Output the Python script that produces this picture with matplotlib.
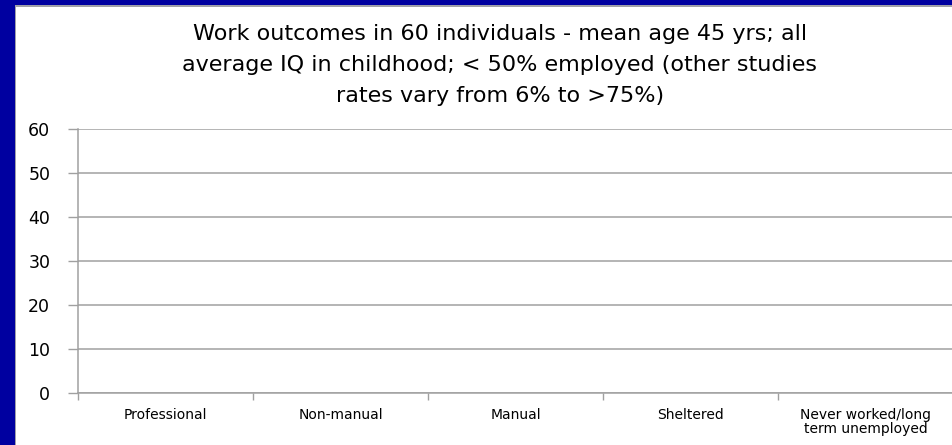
import numpy as np
import matplotlib.pyplot as plt
from matplotlib.patches import Rectangle

plt.rcParams['font.family'] = ['DejaVu Sans']

# Chart categories (no bars were filled in on this chart)
categories = ['Professional', 'Non-manual', 'Manual', 'Sheltered',
              'Never worked/long\nterm unemployed']
y_ticks = [0, 10, 20, 30, 40, 50, 60]

title_lines = ['Work outcomes in 60 individuals - mean age 45 yrs; all',
               'average IQ in childhood; < 50% employed (other studies',
               'rates vary from 6% to >75%)']

W, H = 953, 445
fig = plt.figure(figsize=(W / 100, H / 100), dpi=100)
fig.patch.set_facecolor('white')

# slide frame: dark blue strip on the left and top, thin grey edge inside
blue = '#0000A0'
edge = '#A0A0A8'
fig.patches.append(Rectangle((0, 0), 15 / W, 1, transform=fig.transFigure,
                             facecolor=blue, edgecolor='none', zorder=0))
fig.patches.append(Rectangle((0, 1 - 5 / H), 1, 5 / H, transform=fig.transFigure,
                             facecolor=blue, edgecolor='none', zorder=0))
fig.patches.append(Rectangle((15 / W, 0), 1.5 / W, 1 - 5 / H, transform=fig.transFigure,
                             facecolor=edge, edgecolor='none', zorder=0))
fig.patches.append(Rectangle((15 / W, 1 - 6.5 / H), 1, 1.5 / H, transform=fig.transFigure,
                             facecolor=edge, edgecolor='none', zorder=0))

ax = fig.add_axes([78 / W, 52 / H, 1 - 78 / W, 264 / H])
ax.set_facecolor('none')
x = np.arange(len(categories))
ax.bar(x + 0.5, np.zeros(len(categories)), width=0.6, color='#4F81BD')

ax.set_xlim(0, len(categories))
ax.set_ylim(y_ticks[0], y_ticks[-1])

grey = '#A0A0A0'
ax.set_yticks(y_ticks)
ax.set_yticklabels([str(v) for v in y_ticks], fontsize=12.5, color='black')
ax.tick_params(axis='y', length=7, width=1, color=grey, pad=13)
ax.yaxis.grid(True, color=grey, linewidth=1.1)
ax.set_axisbelow(True)

ax.set_xticks(np.arange(len(categories) + 1))
ax.set_xticklabels([])
ax.set_xticks(x + 0.5, minor=True)
ax.set_xticklabels(categories, minor=True, fontsize=10, linespacing=1.0)
ax.tick_params(axis='x', which='major', length=5, width=1, color=grey)
ax.tick_params(axis='x', which='minor', length=0, pad=11)

for side in ['top', 'right']:
    ax.spines[side].set_visible(False)
for side in ['left', 'bottom']:
    ax.spines[side].set_color(grey)
    ax.spines[side].set_linewidth(1.1)

# three-line title, one baseline per line
for i, line in enumerate(title_lines):
    fig.text(500 / W, 1 - (40.5 + 30.5 * i) / H, line, ha='center',
             va='baseline', fontsize=16, color='black')

fig.savefig('out.png', dpi=100)
